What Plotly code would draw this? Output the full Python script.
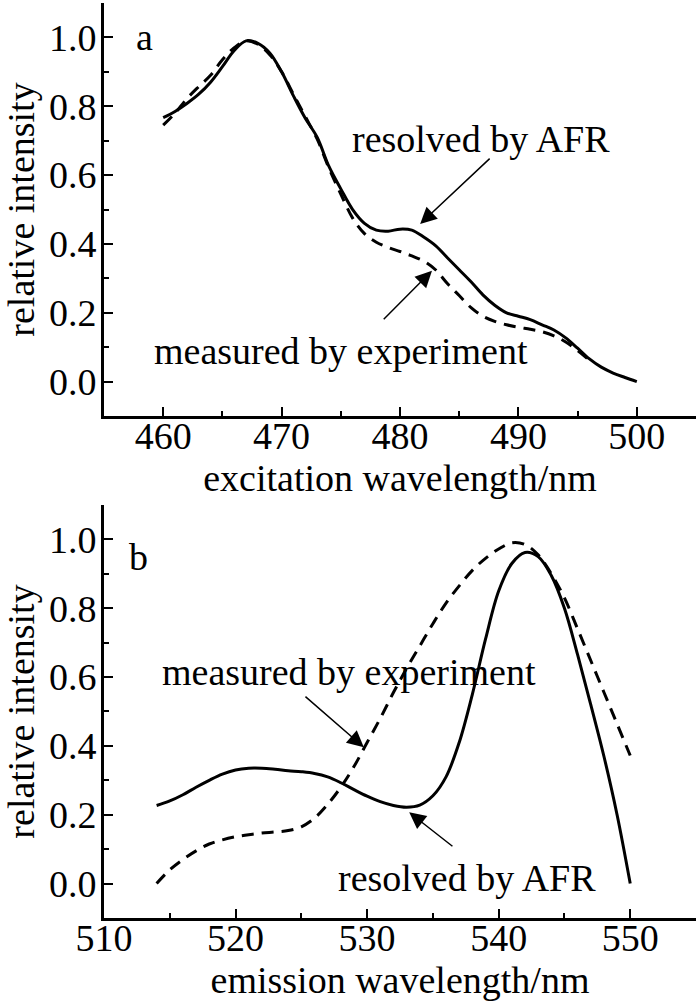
import plotly.graph_objects as go

# ---- panel a: excitation spectra ----
ex_wl = [460, 461, 462, 463, 464, 465, 466, 467, 468, 469, 470, 471, 472, 473, 474,
         475, 476, 477, 478, 479, 480, 481, 482, 483, 484, 485, 486, 487, 488, 489,
         490, 491, 492, 493, 494, 495, 496, 497, 498, 499, 500]
ex_afr = [0.767, 0.785, 0.808, 0.835, 0.87, 0.915, 0.962, 0.99, 0.983, 0.955, 0.90,
          0.83, 0.765, 0.71, 0.625, 0.56, 0.50, 0.46, 0.44, 0.437, 0.443, 0.44,
          0.42, 0.395, 0.36, 0.325, 0.29, 0.252, 0.222, 0.20, 0.19, 0.18, 0.165,
          0.15, 0.127, 0.097, 0.066, 0.042, 0.025, 0.012, 0.0]
ex_wl_meas = ex_wl[:37]
ex_meas = [0.745, 0.78, 0.822, 0.857, 0.89, 0.935, 0.97, 0.99, 0.98, 0.95, 0.90,
           0.835, 0.77, 0.705, 0.62, 0.545, 0.475, 0.43, 0.405, 0.39, 0.378, 0.365,
           0.35, 0.325, 0.285, 0.25, 0.215, 0.19, 0.175, 0.165, 0.158, 0.152,
           0.145, 0.133, 0.115, 0.09, 0.062]

# ---- panel b: emission spectra ----
em_wl = [514, 515, 516, 517, 518, 519, 520, 521, 522, 523, 524, 525, 526, 527, 528,
         529, 530, 531, 532, 533, 534, 535, 536, 537, 538, 539, 540, 541, 542, 543,
         544, 545, 546, 547, 548, 549, 550]
em_afr = [0.227, 0.24, 0.258, 0.28, 0.30, 0.318, 0.33, 0.335, 0.335, 0.332, 0.328,
          0.325, 0.32, 0.31, 0.293, 0.273, 0.254, 0.238, 0.227, 0.222, 0.228,
          0.255, 0.31, 0.41, 0.55, 0.71, 0.85, 0.93, 0.962, 0.95, 0.895, 0.80,
          0.665, 0.52, 0.37, 0.2, 0.0]
em_meas = [0.0, 0.04, 0.07, 0.095, 0.115, 0.127, 0.136, 0.142, 0.147, 0.15, 0.154,
           0.165, 0.19, 0.23, 0.28, 0.34, 0.41, 0.48, 0.555, 0.625, 0.69, 0.755,
           0.815, 0.865, 0.91, 0.945, 0.972, 0.99, 0.985, 0.955, 0.90, 0.83, 0.74,
           0.648, 0.556, 0.464, 0.372]

FONT = "Liberation Serif"
FS = 38

fig = go.Figure()

solid = dict(color="black", width=3, shape="spline", smoothing=1.0)
dashed = dict(color="black", width=3, dash="12px,8px", shape="spline", smoothing=1.0)

fig.add_trace(go.Scatter(x=ex_wl_meas, y=ex_meas, mode="lines", line=dashed,
                         xaxis="x", yaxis="y", showlegend=False))
fig.add_trace(go.Scatter(x=ex_wl, y=ex_afr, mode="lines", line=solid,
                         xaxis="x", yaxis="y", showlegend=False))
fig.add_trace(go.Scatter(x=em_wl, y=em_meas, mode="lines", line=dashed,
                         xaxis="x2", yaxis="y2", showlegend=False))
fig.add_trace(go.Scatter(x=em_wl, y=em_afr, mode="lines", line=solid,
                         xaxis="x2", yaxis="y2", showlegend=False))

common_x = dict(showline=True, linecolor="black", linewidth=3, showgrid=False,
                zeroline=False, ticks="inside", ticklen=9, tickwidth=2,
                tickcolor="black", tickfont=dict(family=FONT, size=FS, color="black"),
                ticklabelstandoff=-16, automargin=False,
                minor=dict(ticks="inside", ticklen=5, tickwidth=2, dtick=5,
                           tickcolor="black"),
                title=dict(font=dict(family=FONT, size=FS, color="black"), standoff=0))
common_y = dict(showline=True, linecolor="black", linewidth=3, showgrid=False,
                zeroline=False, ticks="inside", ticklen=9, tickwidth=2,
                tickcolor="black", tickfont=dict(family=FONT, size=FS, color="black"),
                ticklabelstandoff=-3, automargin=False,
                range=[-0.1, 1.1], tickvals=[0, 0.2, 0.4, 0.6, 0.8, 1.0],
                tickformat=".1f",
                minor=dict(ticks="inside", ticklen=5, tickwidth=2, dtick=0.1,
                           tick0=0, tickcolor="black"),
                title=dict(text="relative intensity",
                           font=dict(family=FONT, size=FS, color="black"), standoff=28))

fig.update_layout(
    width=700, height=1001,
    margin=dict(l=104, r=4, t=3, b=83),
    plot_bgcolor="white", paper_bgcolor="white",
    font=dict(family=FONT, size=FS, color="black"),
    xaxis=dict(common_x, domain=[0, 1], anchor="y", range=[455, 505],
               tickvals=[460, 470, 480, 490, 500],
               title_text="excitation wavelength/nm"),
    yaxis=dict(common_y, domain=[0.5486, 1.0], anchor="x"),
    xaxis2=dict(common_x, domain=[0, 1], anchor="y2", range=[510, 555],
                tickvals=[510, 520, 530, 540, 550],
                title_text="emission wavelength/nm"),
    yaxis2=dict(common_y, domain=[0.0, 0.4514], anchor="x2"),
)

txt = dict(family=FONT, size=FS, color="black")
notes = [
    dict(x=458.4, y=1.0, xref="x", yref="y", text="a"),
    dict(x=486.8, y=0.705, xref="x", yref="y", text="resolved by AFR"),
    dict(x=475.0, y=0.09, xref="x", yref="y", text="measured by experiment"),
    dict(x=512.6, y=0.95, xref="x2", yref="y2", text="b"),
    dict(x=528.6, y=0.615, xref="x2", yref="y2", text="measured by experiment"),
    dict(x=537.6, y=0.017, xref="x2", yref="y2", text="resolved by AFR"),
]
for n in notes:
    fig.add_annotation(n, showarrow=False, font=txt, xanchor="center", yanchor="middle")

arrows = [
    ("x", "y", 487.7, 0.652, 481.7, 0.458),
    ("x", "y", 478.5, 0.177, 482.7, 0.322),
    ("x2", "y2", 525.2, 0.547, 529.75, 0.396),
    ("x2", "y2", 536.6, 0.105, 533.2, 0.207),
]
for xr, yr, tx, ty, hx, hy in arrows:
    fig.add_annotation(x=hx, y=hy, ax=tx, ay=ty, xref=xr, yref=yr, axref=xr, ayref=yr,
                       text="", showarrow=True, arrowhead=2, arrowsize=2.2,
                       arrowwidth=1.5, arrowcolor="black")

# drop the default 8px body margin so the figure fills the window
fig.write_html("out.html", config={"displayModeBar": False},
               post_script="document.body.style.margin='0';")
